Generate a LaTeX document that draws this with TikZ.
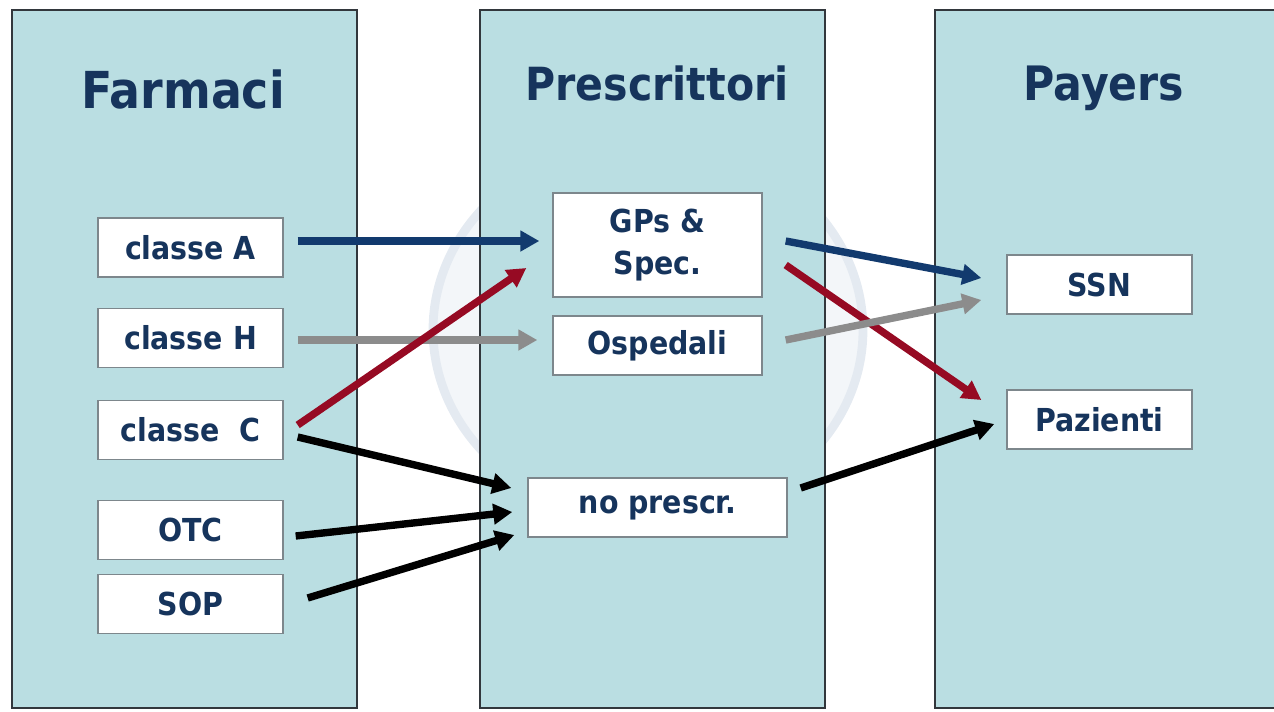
\documentclass[tikz,border=0pt]{standalone}
\usepackage{fontspec}
\setmainfont{DejaVu Sans Condensed}
\usetikzlibrary{calc, arrows.meta}
\definecolor{panelfill}{RGB}{186,222,226}
\definecolor{panelline}{RGB}{50,55,60}
\definecolor{boxline}{RGB}{125,135,140}
\definecolor{navy}{RGB}{22,52,92}
\definecolor{flowblue}{RGB}{18,58,110}
\definecolor{flowred}{RGB}{150,10,35}
\definecolor{flowgray}{RGB}{140,140,140}
\definecolor{ringline}{RGB}{228,234,241}
\definecolor{ringfill}{RGB}{243,246,249}
\begin{document}
\begin{tikzpicture}[x=0.02cm, y=-0.02cm,
        panel/.style={% the three big columns
            draw=panelline,
            line width=1.2pt,
            fill=panelfill,
            },
        title/.style={% column headings
            font=\fontsize{27}{30}\selectfont\bfseries,
            text=navy,
            anchor=base,
            },
        item/.style={% white boxes
            rectangle,
            draw=boxline,
            line width=0.8pt,
            fill=white,
            inner sep=0pt,
            minimum height=1.18cm,
            minimum width=3.7cm,
            align=center,
            text=navy,
            font=\fontsize{18}{24}\selectfont\bfseries,
            },
        flow/.style={% thick arrows
            line width=4.2pt,
            -{Triangle[length=0.38cm,width=0.4cm]},
            },
            ]
    \useasboundingbox (0,0) rectangle (1274,711);
    % faint logo behind the columns
    \draw[draw=ringline, line width=5pt, fill=ringfill] (648,330) ellipse [x radius=215, y radius=190];
    % Draw the columns
    \draw[panel] (12,10) rectangle (357,708);
    \draw[panel] (480,10) rectangle (825,708);
    \draw[panel] (935,10) rectangle (1290,708);
    \node[title, font=\fontsize{29}{32}\selectfont\bfseries] (tfarm) at (183,108) {Farmaci};
    \node[title, font=\fontsize{26}{30}\selectfont\bfseries] (tpres) at (657,100) {Prescrittori};
    \node[title] (tpay) at (1104,100) {Payers};
    % Draw the boxes
    \node[item] (clA) at (190.5,247.5) {classe A};
    \node[item] (clH) at (190.5,338) {classe H};
    \node[item] (clC) at (190.5,430) {classe\ \ C};
    \node[item] (otc) at (190.5,530) {OTC};
    \node[item] (sop) at (190.5,604) {SOP};
    \node[item, minimum width=4.18cm, minimum height=2.08cm] (gps) at (657.5,245) {GPs \&\\Spec.};
    \node[item, minimum width=4.18cm] (osp) at (657.5,345.5) {Ospedali};
    \node[item, minimum width=5.18cm] (nopr) at (657.5,507.5) {no prescr.};
    \node[item] (ssn) at (1099.5,284.5) {SSN};
    \node[item] (paz) at (1099.5,419.5) {Pazienti};
    % Start connecting all.
    \draw[flow, flowblue] ($(clA.east)+(14,-6.5)$) -- ($(gps.west)+(-13,-4)$);
    \draw[flow, flowgray] ($(clH.east)+(14,2)$) -- ($(osp.west)+(-15,-5.5)$);
    \draw[flow, flowred] ($(clC.east)+(14,-5)$) -- ($(gps.west)+(-26,23)$);
    \draw[flow, black] ($(clC.east)+(14,7)$) -- ($(nopr.west)+(-16,-19.5)$);
    \draw[flow, black] ($(otc.east)+(12,6)$) -- ($(nopr.west)+(-15,4.5)$);
    \draw[flow, black] ($(sop.east)+(24,-6)$) -- ($(nopr.west)+(-13,27.5)$);
    \draw[flow, flowblue] ($(gps.east)+(23,-4)$) -- ($(ssn.west)+(-25,-6.5)$);
    \draw[flow, flowred] ($(gps.east)+(23,20)$) -- ($(paz.west)+(-25,-19.5)$);
    \draw[flow, flowgray] ($(osp.east)+(23,-5.5)$) -- ($(ssn.west)+(-25,15.5)$);
    \draw[flow, black] ($(nopr.east)+(13,-19.5)$) -- ($(paz.west)+(-12,4.5)$);
\end{tikzpicture}
\end{document}
